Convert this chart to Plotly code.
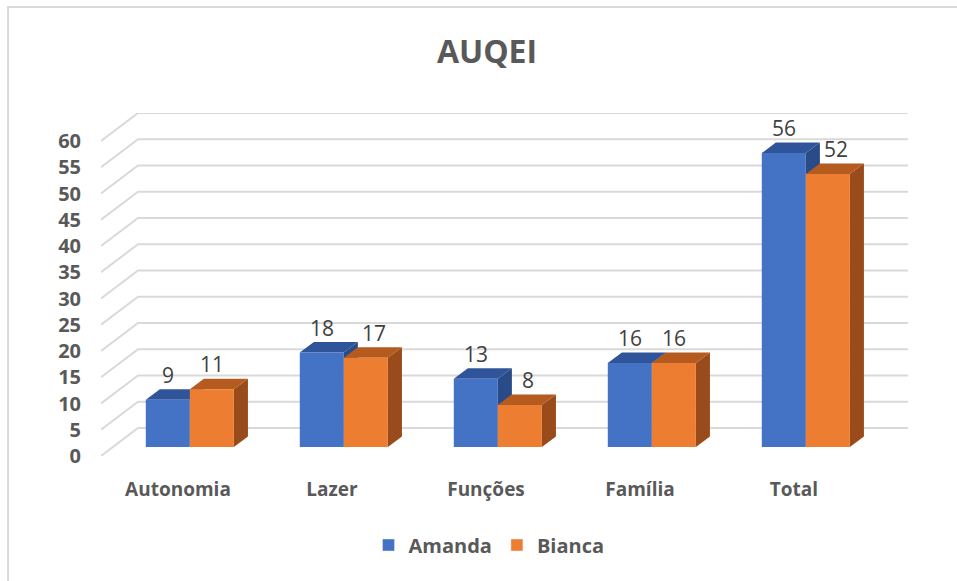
import plotly.graph_objects as go

categories = ["Autonomia", "Lazer", "Funções", "Família", "Total"]
amanda = [9, 18, 13, 16, 56]
bianca = [11, 17, 8, 16, 52]
y_ticks = [0, 5, 10, 15, 20, 25, 30, 35, 40, 45, 50, 55, 60]
series_names = ["Amanda", "Bianca"]

# 3D look (style constants, in axis units)
DX, DY = 0.2403, 5.333      # full depth vector of the back wall
D0, D1 = 0.32, 0.70         # bar depth span (fraction of full depth)
W = 0.286                   # single bar width
GRID = "#D9D9D9"
TXT = "#595959"
FONT = "Open Sans"
colors = {
    "Amanda": {"front": "#4472C4", "top": "#30549A", "side": "#294B88"},
    "Bianca": {"front": "#ED7D31", "top": "#B65B1F", "side": "#9A4B1B"},
}

fig = go.Figure()

# grid: side wall diagonals + back wall horizontals
gx, gy = [], []
x_left, x_right = -0.5, len(categories) - 0.5
for v in y_ticks:
    gx += [x_left, x_left + DX, x_right + DX, None]
    gy += [v, v + DY, v + DY, None]
fig.add_trace(go.Scatter(x=gx, y=gy, mode="lines", line=dict(color=GRID, width=2),
                         hoverinfo="skip", showlegend=False))


def poly(xs, ys, color):
    fig.add_trace(go.Scatter(x=xs + [xs[0]], y=ys + [ys[0]], mode="lines", fill="toself",
                             fillcolor=color, line=dict(width=0, color=color),
                             hoverinfo="skip", showlegend=False))


annotations = []
for i, cat in enumerate(categories):
    for name, vals, off in (("Amanda", amanda, -W), ("Bianca", bianca, 0.0)):
        v = vals[i]
        c = colors[name]
        x0 = i + off
        xf0, xf1 = x0 + D0 * DX, x0 + W + D0 * DX
        xb0, xb1 = x0 + D1 * DX, x0 + W + D1 * DX
        yf0, yb0 = D0 * DY, D1 * DY
        # side face
        poly([xf1, xb1, xb1, xf1], [yf0, yb0, v + yb0, v + yf0], c["side"])
        # top face
        poly([xf0, xf1, xb1, xb0], [v + yf0, v + yf0, v + yb0, v + yb0], c["top"])
        # front face
        poly([xf0, xf1, xf1, xf0], [yf0, yf0, v + yf0, v + yf0], c["front"])
        shift = 8 if (name == "Bianca" and bianca[i] < amanda[i]) else 0
        annotations.append(dict(x=(xf0 + xf1) / 2, y=v + yf0, xref="x", yref="y",
                                text=str(v), showarrow=False, yanchor="middle",
                                yshift=25, xshift=shift,
                                font=dict(family=FONT, size=21, color="#404040")))

# legend entries
for name in series_names:
    fig.add_trace(go.Bar(x=[None], y=[None], name=name,
                         marker=dict(color=colors[name]["front"])))

# chart border
border = [dict(type="rect", xref="paper", yref="paper",
               x0=-0.1152, x1=1.2, y0=-0.5, y1=1.309,
               line=dict(color="#D9D9D9", width=2), fillcolor="rgba(0,0,0,0)",
               layer="below")]

fig.update_layout(
    width=957, height=581,
    margin=dict(l=101, r=49, t=113, b=125, pad=0),
    paper_bgcolor="white", plot_bgcolor="white",
    title=dict(text="AUQEI", x=487 / 957, xanchor="center", xref="container",
               y=1 - 52 / 581, yanchor="middle", yref="container",
               font=dict(family=FONT, size=32, color=TXT, weight="bold")),
    xaxis=dict(range=[x_left, x_right + DX], tickvals=list(range(len(categories))),
               ticktext=categories, showgrid=False,
               zeroline=False, showline=False, ticks="", ticklabelstandoff=20,
               tickfont=dict(family=FONT, size=19, color=TXT, weight="bold"), fixedrange=True),
    yaxis=dict(range=[0, y_ticks[-1] + DY], tickvals=y_ticks,
               ticktext=[str(t) for t in y_ticks], showgrid=False,
               zeroline=False, showline=False, ticks="", ticklabelstandoff=19,
               tickfont=dict(family=FONT, size=20, color=TXT, weight="bold"), fixedrange=True),
    legend=dict(orientation="h", x=(489 - 101) / 807, xanchor="center",
                y=(456 - 545) / 343, yanchor="middle",
                font=dict(family=FONT, size=20, color=TXT, weight="bold"), traceorder="normal"),
    annotations=annotations,
    shapes=border,
)

fig.write_html("out.html", config={"displayModeBar": False},
               post_script="document.body.style.margin='0';")
